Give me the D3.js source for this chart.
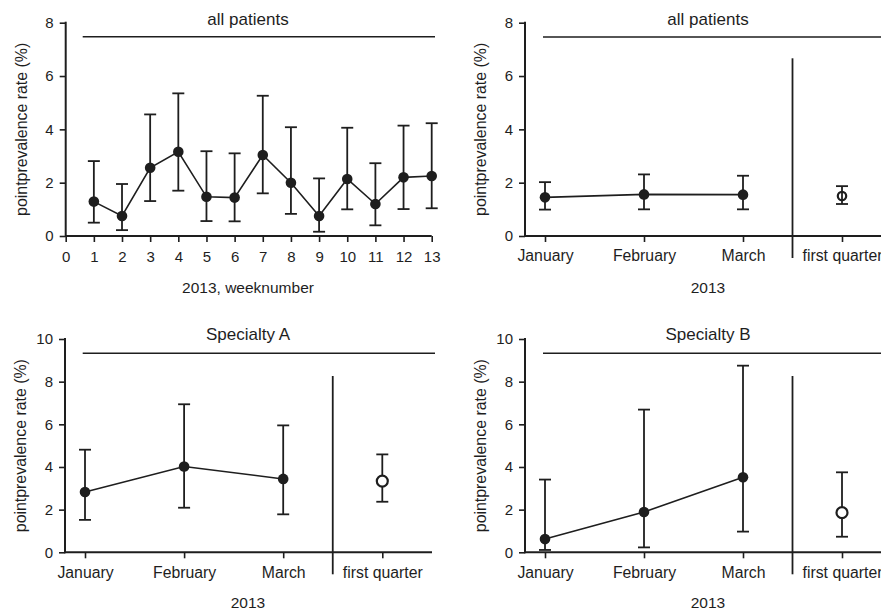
<html>
<head>
<script src="https://cdn.jsdelivr.net/npm/d3@7"></script>
<style>
  body { margin: 0; background: #fff; }
  text { font-family: "Liberation Sans", Arial, sans-serif; fill: #1e1e1e; }
</style>
</head>
<body>
<div id="chart"></div>
<script>
// ---- data ----
var weeks = [1,2,3,4,5,6,7,8,9,10,11,12,13];
var weekRate = [1.29,0.75,2.56,3.16,1.47,1.44,3.04,2.0,0.75,2.14,1.2,2.2,2.25];
var weekLow  = [0.5,0.22,1.31,1.7,0.56,0.55,1.6,0.83,0.16,1.0,0.4,1.01,1.04];
var weekHigh = [2.81,1.95,4.56,5.35,3.18,3.1,5.26,4.08,2.16,4.06,2.73,4.14,4.23];

var months = ["January","February","March","first quarter"];

var allRate = [1.45,1.56,1.55], allLow = [0.99,1.0,1.0], allHigh = [2.02,2.31,2.26];
var allQ = 1.5, allQLow = 1.2, allQHigh = 1.87;

var aRate = [2.83,4.02,3.44], aLow = [1.52,2.09,1.78], aHigh = [4.81,6.94,5.95];
var aQ = 3.34, aQLow = 2.37, aQHigh = 4.59;

var bRate = [0.62,1.89,3.52], bLow = [0.11,0.23,0.97], bHigh = [3.41,6.69,8.75];
var bQ = 1.86, bQLow = 0.73, bQHigh = 3.75;

var ink = "#1e1e1e";

var svg = d3.select("#chart").append("svg")
  .attr("width", 881).attr("height", 612);

// draws one panel; p holds positions only
function panel(p, data) {
  var g = svg.append("g");
  var y = d3.scaleLinear().domain([0, p.ymax]).range([p.y0, p.y1]);
  var x = d3.scaleLinear().domain(p.xdom).range(p.xrange);

  // y axis
  var ya = g.append("g").attr("transform", "translate(" + p.ax + ",0)")
    .call(d3.axisLeft(y).ticks(p.ymax / 2).tickSize(6).tickPadding(6));
  ya.select(".domain").remove();
  ya.selectAll(".tick line").attr("stroke", ink).attr("stroke-width", 1.6);
  ya.selectAll(".tick text").style("font-size", "15px").attr("font-family", null);
  g.append("line").attr("x1", p.ax).attr("x2", p.ax)
    .attr("y1", y(p.ymax) - 1).attr("y2", p.y0 + 1)
    .attr("stroke", ink).attr("stroke-width", 2);

  // x axis
  var xa = g.append("g").attr("transform", "translate(0," + p.y0 + ")")
    .call(d3.axisBottom(x).tickValues(p.ticks).tickSize(6).tickPadding(p.pad)
      .tickFormat(p.fmt));
  xa.select(".domain").remove();
  xa.selectAll(".tick line").attr("stroke", ink).attr("stroke-width", 1.6);
  xa.selectAll(".tick text").style("font-size", p.tickFont).attr("font-family", null);
  g.append("line").attr("x1", p.ax).attr("x2", p.axEnd)
    .attr("y1", p.y0).attr("y2", p.y0)
    .attr("stroke", ink).attr("stroke-width", 2);

  // separator before the quarter column
  if (p.sep) {
    g.append("line").attr("x1", x(2.5)).attr("x2", x(2.5))
      .attr("y1", p.sepTop).attr("y2", p.y0 + 22)
      .attr("stroke", ink).attr("stroke-width", 1.8);
  }

  // top bar and title
  g.append("line").attr("x1", p.barX1).attr("x2", p.barX2)
    .attr("y1", p.barY).attr("y2", p.barY)
    .attr("stroke", ink).attr("stroke-width", 1.6);
  g.append("text").attr("x", p.titleX).attr("y", p.titleY)
    .attr("text-anchor", "middle").style("font-size", "17px").text(p.title);

  // axis labels
  g.append("text").attr("x", p.titleX).attr("y", p.xlabY)
    .attr("text-anchor", "middle").style("font-size", "15.5px").text(p.xlab);
  g.append("text")
    .attr("transform", "translate(" + (p.ax - 39) + "," + ((p.y0 + y(p.ymax)) / 2) + ") rotate(-90)")
    .attr("text-anchor", "middle").style("font-size", "15.9px")
    .text("pointprevalence rate (%)");

  // connecting line
  g.append("path").datum(data.xs)
    .attr("fill", "none").attr("stroke", ink).attr("stroke-width", 1.6)
    .attr("d", d3.line().x(function(d) { return x(d); })
      .y(function(d, i) { return y(data.rate[i]); }));

  function errbar(xv, lo, hi) {
    var eg = g.append("g").attr("stroke", ink).attr("stroke-width", 1.8);
    eg.append("line").attr("x1", x(xv)).attr("x2", x(xv)).attr("y1", y(lo)).attr("y2", y(hi));
    eg.append("line").attr("x1", x(xv) - 6).attr("x2", x(xv) + 6).attr("y1", y(lo)).attr("y2", y(lo));
    eg.append("line").attr("x1", x(xv) - 6).attr("x2", x(xv) + 6).attr("y1", y(hi)).attr("y2", y(hi));
  }

  data.xs.forEach(function(xv, i) { errbar(xv, data.low[i], data.high[i]); });
  g.selectAll("circle.pt").data(data.xs).enter().append("circle")
    .attr("class", "pt")
    .attr("cx", function(d) { return x(d); })
    .attr("cy", function(d, i) { return y(data.rate[i]); })
    .attr("r", 5.3).attr("fill", ink);

  if (data.q !== undefined) {
    if (!p.qOver) errbar(3, data.qLow, data.qHigh);
    g.append("circle").attr("cx", x(3)).attr("cy", y(data.q))
      .attr("r", p.qr).attr("fill", "#fff").attr("stroke", ink).attr("stroke-width", 2.2);
    if (p.qOver) errbar(3, data.qLow, data.qHigh);
  }
}

var monthFmt = function(d) { return months[d]; };

panel({
  ymax: 8, y0: 236, y1: 22.7, xdom: [0, 13], xrange: [65.7, 431.7],
  ax: 65.7, axEnd: 431.7, ticks: d3.range(0, 14), fmt: d3.format("d"), pad: 9,
  tickFont: "15px",
  barX1: 82.7, barX2: 435, barY: 36.7, titleX: 248, titleY: 25,
  title: "all patients", xlab: "2013, weeknumber", xlabY: 293
}, { xs: weeks, rate: weekRate, low: weekLow, high: weekHigh });

panel({
  ymax: 8, y0: 236, y1: 22.7, xdom: [0, 3], xrange: [545, 842],
  ax: 525, axEnd: 881, ticks: [0, 1, 2, 3], fmt: monthFmt, pad: 8,
  tickFont: "15.8px", sep: true, sepTop: 58.3, qr: 4.2, qOver: true,
  barX1: 543, barX2: 881, barY: 37, titleX: 708, titleY: 25,
  title: "all patients", xlab: "2013", xlabY: 293
}, { xs: [0, 1, 2], rate: allRate, low: allLow, high: allHigh,
     q: allQ, qLow: allQLow, qHigh: allQHigh });

panel({
  ymax: 10, y0: 552.3, y1: 339, xdom: [0, 3], xrange: [85, 382.3],
  ax: 65, axEnd: 432, ticks: [0, 1, 2, 3], fmt: monthFmt, pad: 8,
  tickFont: "15.8px", sep: true, sepTop: 376, qr: 5.5,
  barX1: 82.7, barX2: 435, barY: 353.3, titleX: 248, titleY: 339.5,
  title: "Specialty A", xlab: "2013", xlabY: 608
}, { xs: [0, 1, 2], rate: aRate, low: aLow, high: aHigh,
     q: aQ, qLow: aQLow, qHigh: aQHigh });

panel({
  ymax: 10, y0: 552.3, y1: 339, xdom: [0, 3], xrange: [545, 842],
  ax: 525, axEnd: 881, ticks: [0, 1, 2, 3], fmt: monthFmt, pad: 8,
  tickFont: "15.8px", sep: true, sepTop: 376, qr: 5.5,
  barX1: 543, barX2: 881, barY: 353.3, titleX: 708, titleY: 339.5,
  title: "Specialty B", xlab: "2013", xlabY: 608
}, { xs: [0, 1, 2], rate: bRate, low: bLow, high: bHigh,
     q: bQ, qLow: bQLow, qHigh: bQHigh });
</script>
</body>
</html>
